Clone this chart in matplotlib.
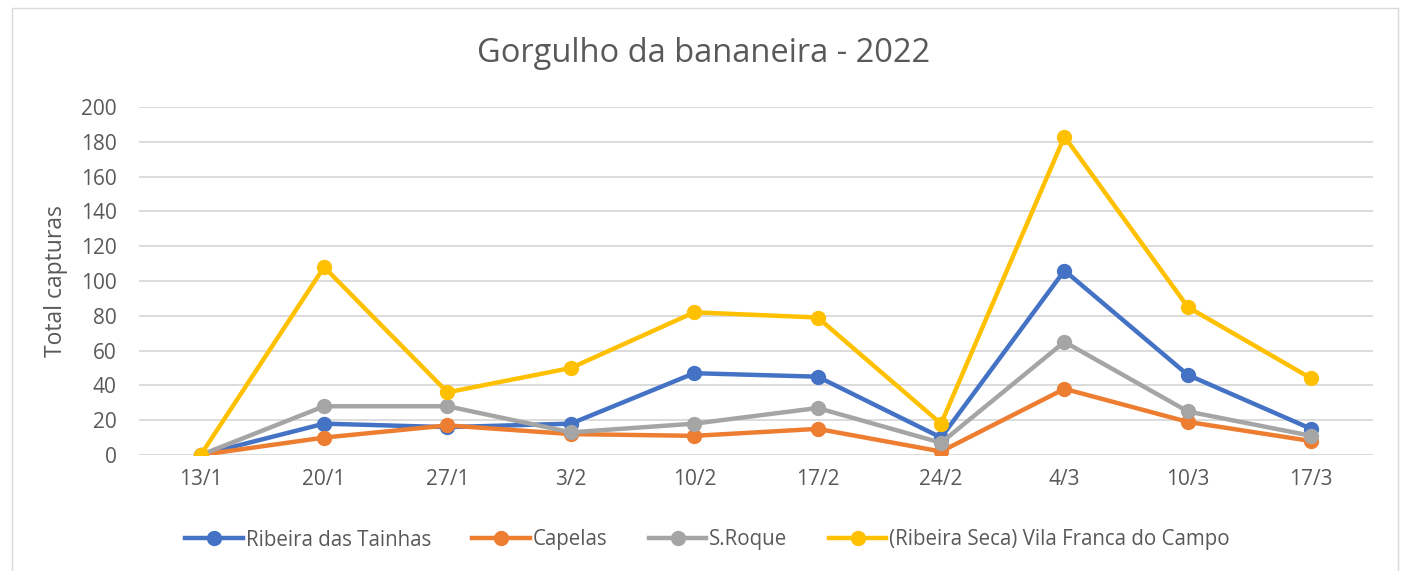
import matplotlib
matplotlib.use("Agg")
import matplotlib.pyplot as plt
from matplotlib.patches import Rectangle

categories = ["13/1", "20/1", "27/1", "3/2", "10/2", "17/2", "24/2", "4/3", "10/3", "17/3"]
ribeira_tainhas = [0, 18, 16, 18, 47, 45, 10, 106, 46, 15]
capelas = [0, 10, 17, 12, 11, 15, 2, 38, 19, 8]
s_roque = [0, 28, 28, 13, 18, 27, 7, 65, 25, 11]
vila_franca = [0, 108, 36, 50, 82, 79, 18, 183, 85, 44]
series_names = ["Ribeira das Tainhas", "Capelas", "S.Roque", "(Ribeira Seca) Vila Franca do Campo"]
colors = ["#4472C4", "#ED7D31", "#A5A5A5", "#FFC000"]

plt.rcParams['font.family'] = ['Open Sans', 'DejaVu Sans']
txt = "#595959"

fig = plt.figure(figsize=(14.07, 5.71), dpi=100)
ax = fig.add_axes([0.0988, 0.2032, 0.8770, 0.6094])

x = list(range(len(categories)))
for vals, name, c in zip([ribeira_tainhas, capelas, s_roque, vila_franca], series_names, colors):
    ax.plot(x, vals, color=c, lw=3.2, marker='o', markersize=10, label=name, zorder=3)

ax.set_xlim(-0.5, len(categories) - 0.5)
ax.set_ylim(0, 200)
ax.set_yticks(range(0, 201, 20))
ax.set_xticks(x)
ax.set_xticklabels(categories)
ax.grid(axis='y', color='#D9D9D9', lw=1.3, zorder=0)
ax.set_axisbelow(True)
for s in ax.spines.values():
    s.set_visible(False)
ax.tick_params(length=0, labelsize=15, colors=txt)
ax.tick_params(axis='x', pad=10)
ax.tick_params(axis='y', pad=16)
ax.set_ylabel("Total capturas", fontsize=16.5, color=txt, labelpad=9)
fig.text(0.5, 1 - 54/571, "Gorgulho da bananeira - 2022", fontsize=23.5, color=txt,
         ha='center', va='center')

leg = fig.legend(loc='center', bbox_to_anchor=(0.503, 1 - 540/571), ncol=4, frameon=False,
                 fontsize=14.8, labelcolor=txt, handlelength=2.8, handletextpad=0.15, columnspacing=2.0)

fig.patches.append(Rectangle((12/1407, -0.01), (1398-12)/1407, (571-8)/571 + 0.01,
                             transform=fig.transFigure, fill=False, edgecolor='#D9D9D9', lw=1))

fig.savefig("out.png", dpi=100)
